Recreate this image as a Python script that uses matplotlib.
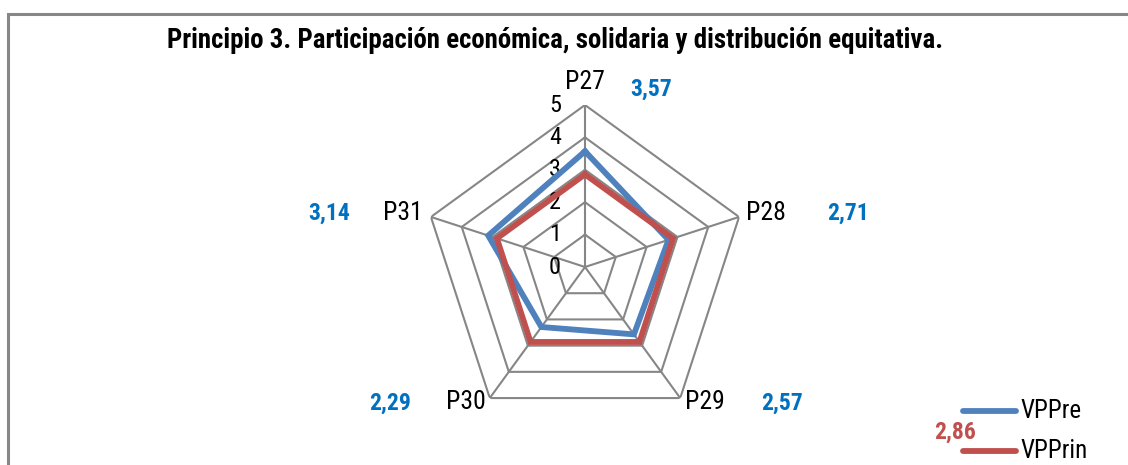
import numpy as np
import matplotlib
matplotlib.use("Agg")
import matplotlib.pyplot as plt
from matplotlib.patches import Rectangle
from matplotlib.transforms import offset_copy

# Data
categories = ["P27", "P28", "P29", "P30", "P31"]
vppre = [3.57, 2.71, 2.57, 2.29, 3.14]
vpprin = [2.86, 2.86, 2.86, 2.86, 2.86]
value_labels_pre = ["3,57", "2,71", "2,57", "2,29", "3,14"]
value_label_prin = "2,86"
series_names = ["VPPre", "VPPrin"]
levels = [0, 1, 2, 3, 4, 5]
title = "Principio 3. Participación económica, solidaria y distribución equitativa."

plt.rcParams["font.family"] = ["Roboto Condensed", "Liberation Sans", "DejaVu Sans"]

W, H = 1128, 465
fig = plt.figure(figsize=(W / 100, H / 100), dpi=100)


def px(x, y):
    return x / W, 1 - y / H


# outer frame (top and left edges visible)
fig.patches.append(Rectangle(px(8, 600), (W + 50) / W, (600 - 14) / H,
                             transform=fig.transFigure, fill=False,
                             edgecolor="#878787", linewidth=2.2))

cx, cy, R = 585, 267, 162
ax = fig.add_axes([(cx - R) / W, (H - cy - R) / H, 2 * R / W, 2 * R / H],
                  projection="polar")
ax.set_theta_offset(np.pi / 2)
ax.set_theta_direction(-1)
ax.set_ylim(0, 5)
ax.grid(False)
ax.set_xticks([])
ax.set_yticks([])
ax.spines["polar"].set_visible(False)
ax.patch.set_alpha(0)

n = len(categories)
angles = np.linspace(0, 2 * np.pi, n, endpoint=False)
closed = np.append(angles, angles[0])

grid_color = "#868686"
for lv in levels[1:]:
    ax.plot(closed, [lv] * (n + 1), color=grid_color, lw=1.5, zorder=1)
for a in angles:
    ax.plot([a, a], [0, levels[-1]], color=grid_color, lw=1.5, zorder=1)

blue, red = "#4F81BD", "#C0504D"
ax.plot(closed, vppre + vppre[:1], color=blue, lw=4.2, zorder=3,
        solid_joinstyle="miter")
ax.plot(closed, vpprin + vpprin[:1], color=red, lw=4.2, zorder=4,
        solid_joinstyle="miter")

# radial tick labels, set just left of the vertical axis
tick_tr = offset_copy(ax.transData, fig=fig, x=-24, y=0, units="dots")
for lv in levels:
    ax.text(0, lv, str(lv), transform=tick_tr, fontsize=17.5,
            ha="right", va="center", zorder=2)

# category labels
cat_pos = [(585, 82, "center"), (746, 213, "left"), (685, 402, "left"),
           (486, 402, "right"), (423, 213, "right")]
for name, (x, y, ha) in zip(categories, cat_pos):
    fig.text(*px(x, y), name, fontsize=18.5, ha=ha, va="center")

# value labels
val_pos = [(651, 89), (848, 213), (782, 403), (390, 403), (329, 213)]
for lab, (x, y) in zip(value_labels_pre, val_pos):
    fig.text(*px(x, y), lab, fontsize=17, fontweight="bold", color="#0070C0",
             ha="center", va="center")
fig.text(*px(955, 432), value_label_prin, fontsize=17, fontweight="bold",
         color=red, ha="center", va="center")

# legend
for name, col, y in zip(series_names, [blue, red], [411, 451]):
    fig.add_artist(plt.Line2D([963 / W, 1016 / W], [1 - y / H, 1 - y / H],
                              transform=fig.transFigure, color=col, lw=4.2,
                              solid_capstyle="round"))
    fig.text(*px(1020, y), name, fontsize=18, ha="left", va="center")

fig.text(*px(555, 41), title, fontsize=19.4, fontweight="bold",
         ha="center", va="center")

fig.savefig("out.png", dpi=100)
